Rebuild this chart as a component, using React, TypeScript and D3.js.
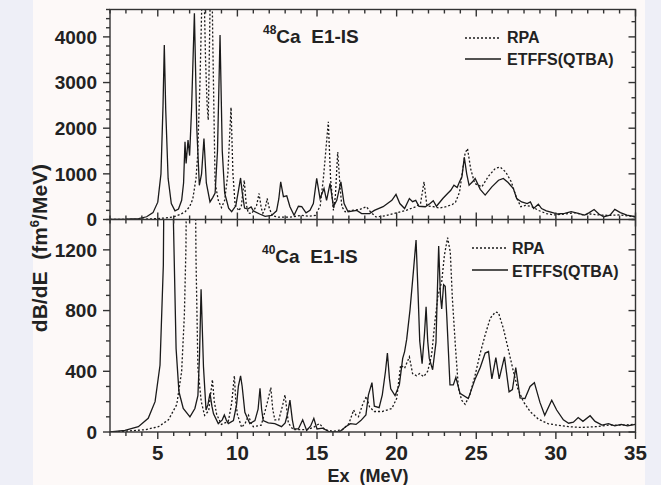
import React from "react";
import * as d3 from "d3";

type P = [number, number];

// 48Ca E1-IS, ETFFS(QTBA)
const ca48Qtba: P[] = [
[2,0],[3,5],[3.8,20],[4.3,60],[4.7,150],[5.0,380],[5.2,1000],[5.33,2500],[5.41,3820],[5.5,2400],[5.65,900],[5.85,350],[6.08,190],[6.3,230],[6.5,420],[6.62,800],[6.71,1700],[6.78,1230],[6.9,1740],[7.0,1400],[7.12,2400],[7.3,4520],[7.45,2000],[7.61,750],[7.75,1000],[7.9,1775],[8.05,800],[8.28,385],[8.45,480],[8.6,580],[8.75,1500],[8.91,4040],[9.05,1500],[9.2,580],[9.45,250],[9.64,170],[9.9,300],[10.05,600],[10.2,910],[10.3,600],[10.45,250],[10.65,230],[10.86,275],[11.0,190],[11.4,120],[11.74,70],[12.15,90],[12.46,190],[12.6,450],[12.72,825],[12.89,500],[13.1,520],[13.3,280],[13.56,95],[13.83,290],[14.04,280],[14.31,145],[14.56,200],[14.77,350],[14.98,900],[15.19,460],[15.44,680],[15.6,420],[15.82,790],[16.03,280],[16.24,420],[16.5,825],[16.7,350],[16.95,170],[17.5,200],[17.8,130],[18.3,130],[18.6,200],[19.15,280],[19.7,420],[19.96,550],[20.2,350],[20.5,240],[20.8,460],[21.0,390],[21.2,420],[21.4,290],[21.8,280],[22.1,350],[22.3,410],[22.5,290],[22.9,460],[23.2,570],[23.4,640],[23.6,750],[23.8,700],[23.95,825],[24.1,935],[24.25,1360],[24.4,1000],[24.55,750],[24.75,820],[24.93,900],[25.25,660],[25.56,535],[25.98,715],[26.4,860],[26.7,900],[27.0,810],[27.33,680],[27.54,460],[27.85,385],[28.2,350],[28.4,385],[28.6,240],[28.9,335],[29.1,240],[29.4,190],[29.8,150],[30.1,120],[30.55,135],[30.96,170],[31.4,135],[31.8,95],[32.1,150],[32.4,220],[32.7,120],[33.0,60],[33.4,95],[33.7,220],[34.05,150],[34.46,95],[35,60]
];

// 48Ca E1-IS, RPA
const ca48Rpa: P[] = [
[2,0],[4,5],[5,20],[5.5,35],[6.0,60],[6.4,110],[6.72,170],[7.0,280],[7.2,450],[7.4,900],[7.5,1380],[7.65,3000],[7.85,6000],[8.0,3500],[8.1,2500],[8.17,2180],[8.3,5000],[8.38,6000],[8.45,4000],[8.6,800],[8.8,420],[9.0,260],[9.2,420],[9.4,1000],[9.6,2455],[9.72,1000],[9.86,310],[10.1,190],[10.25,300],[10.43,860],[10.55,350],[10.68,140],[10.9,130],[11.2,300],[11.36,570],[11.5,250],[11.6,140],[11.75,250],[11.87,460],[12.0,250],[12.2,80],[12.6,50],[13.3,50],[14.0,90],[14.5,70],[14.9,90],[15.2,300],[15.4,900],[15.5,1300],[15.71,2140],[15.85,900],[16.03,200],[16.15,500],[16.3,1480],[16.45,700],[16.56,280],[16.77,170],[17.2,200],[17.7,220],[18.1,280],[18.4,150],[18.7,57],[19.3,80],[19.8,130],[20.6,200],[21.2,280],[21.5,350],[21.72,825],[21.9,300],[22.3,280],[22.7,250],[23.1,280],[23.5,330],[23.7,380],[23.95,600],[24.15,1100],[24.3,1450],[24.45,1555],[24.65,1110],[24.9,790],[25.35,715],[25.77,950],[26.2,1120],[26.5,1150],[26.85,1040],[27.2,825],[27.5,500],[27.8,280],[28.1,310],[28.5,280],[28.9,200],[29.4,130],[29.9,100],[30.55,120],[31.2,150],[31.7,100],[32.2,120],[32.7,100],[33.3,90],[34,100],[35,60]
];

// 40Ca E1-IS, ETFFS(QTBA)
const ca40Qtba: P[] = [
[2,0],[2.94,10],[3.78,35],[4.4,90],[4.83,200],[5.14,440],[5.35,1100],[5.45,2500],[5.65,5000],[5.88,2500],[5.98,1400],[6.15,550],[6.33,265],[6.6,155],[7.02,100],[7.33,155],[7.52,240],[7.62,500],[7.72,940],[7.87,430],[8.03,145],[8.15,180],[8.28,255],[8.4,170],[8.5,120],[8.8,55],[9.05,80],[9.18,112],[9.3,80],[9.43,55],[9.75,75],[9.95,180],[10.06,300],[10.2,370],[10.3,300],[10.47,130],[10.78,55],[11.1,75],[11.3,150],[11.42,288],[11.52,150],[11.62,75],[11.94,60],[12.35,55],[12.77,35],[13.0,60],[13.15,120],[13.3,210],[13.45,80],[13.56,20],[13.83,20],[14.1,80],[14.35,10],[14.6,40],[14.8,90],[15.0,20],[15.35,25],[15.8,0],[16.4,0],[16.8,35],[17.1,55],[17.45,50],[17.75,75],[18.07,112],[18.23,245],[18.45,325],[18.6,170],[18.9,160],[19.1,245],[19.3,400],[19.42,520],[19.55,350],[19.63,285],[19.9,240],[20.17,310],[20.38,485],[20.5,530],[20.63,610],[20.84,805],[21.05,1055],[21.22,1265],[21.35,900],[21.45,600],[21.6,450],[21.75,650],[21.85,825],[21.95,600],[22.05,485],[22.26,410],[22.47,590],[22.55,900],[22.64,1225],[22.75,900],[22.83,810],[22.95,970],[23.05,960],[23.15,760],[23.35,310],[23.56,310],[23.72,360],[23.98,255],[24.5,220],[24.93,350],[25.25,425],[25.56,520],[25.77,530],[25.98,350],[26.23,490],[26.44,350],[26.77,495],[27.06,265],[27.27,280],[27.48,425],[27.75,225],[28.06,220],[28.38,300],[28.65,325],[29.0,195],[29.3,110],[29.74,210],[30.05,145],[30.47,80],[30.8,58],[31.1,65],[31.4,95],[31.7,70],[32.15,107],[32.46,70],[32.9,45],[33.3,55],[33.7,40],[34.1,50],[34.5,40],[35,50]
];

// 40Ca E1-IS, RPA
const ca40Rpa: P[] = [
[2,0],[2.94,5],[4.2,15],[5.04,35],[5.67,80],[6.19,180],[6.5,400],[6.67,770],[6.77,1220],[6.9,3000],[7.1,5000],[7.3,2500],[7.4,1150],[7.52,420],[7.73,200],[7.94,110],[8.2,140],[8.32,250],[8.43,345],[8.55,200],[8.7,115],[9.0,50],[9.43,70],[9.64,190],[9.81,370],[9.9,200],[10.0,115],[10.27,30],[10.5,60],[10.7,110],[10.85,60],[11.0,35],[11.5,45],[11.87,190],[12.1,292],[12.22,150],[12.35,80],[12.6,80],[12.85,180],[12.99,245],[13.1,150],[13.2,60],[13.5,15],[14.35,15],[14.77,30],[15.15,55],[15.5,15],[16.0,5],[16.6,15],[17.0,55],[17.3,145],[17.45,110],[17.6,100],[17.86,180],[18.1,235],[18.3,165],[18.6,135],[19.1,135],[19.7,155],[20.0,220],[20.25,440],[20.5,420],[20.8,495],[21.0,385],[21.25,370],[21.45,385],[21.7,365],[21.95,400],[22.2,510],[22.4,725],[22.6,900],[22.83,990],[23.0,1165],[23.2,1280],[23.37,1185],[23.5,880],[23.7,550],[23.88,288],[24.08,210],[24.3,182],[24.6,245],[24.93,375],[25.25,520],[25.56,640],[25.88,750],[26.2,790],[26.4,785],[26.7,683],[27.0,550],[27.33,400],[27.6,288],[27.96,200],[28.38,135],[28.9,85],[29.5,55],[30.1,45],[30.8,35],[31.6,30],[32.5,35],[33.3,45],[34.1,45],[34.9,50],[35,50]
];

const xTickLabels = [5, 10, 15, 20, 25, 30, 35];
const topYTickLabels = [0, 1000, 2000, 3000, 4000];
const bottomYTickLabels = [0, 400, 800, 1200];
const legendLabels = ["RPA", "ETFFS(QTBA)"];

const W = 661, H = 485;
const L = 110, R = 635.5;
const TOP0 = 9.5, MID = 219.5, BOT = 432;
const FONT = "'Liberation Sans', Arial, sans-serif";
const INK = "#1a1a1a";

export default function App() {
  const x = d3.scaleLinear().domain([2, 35]).range([L, R]);
  const yT = d3.scaleLinear().domain([0, 4600]).range([MID, TOP0]);
  const yB = d3.scaleLinear().domain([0, 1400]).range([BOT, MID]);

  const lineT = d3.line<P>().x(d => x(d[0])).y(d => yT(d[1]));
  const lineB = d3.line<P>().x(d => x(d[0])).y(d => yB(d[1]));

  const xMinor = d3.range(2, 35.01, 1);
  const isMajorX = (v: number) => v % 5 === 0;

  const ticks: React.ReactNode[] = [];
  xMinor.forEach((v, i) => {
    const px = x(v);
    const len = isMajorX(v) ? 7 : 4;
    ticks.push(<line key={"xt" + i} x1={px} x2={px} y1={TOP0} y2={TOP0 + len} />);
    ticks.push(<line key={"xm1" + i} x1={px} x2={px} y1={MID} y2={MID - len} />);
    ticks.push(<line key={"xm2" + i} x1={px} x2={px} y1={MID} y2={MID + len} />);
    ticks.push(<line key={"xb" + i} x1={px} x2={px} y1={BOT} y2={BOT + len} />);
  });
  d3.range(0, 4601, 200).forEach((v, i) => {
    const len = v % 1000 === 0 ? 7 : 4;
    ticks.push(<line key={"tl" + i} x1={L} x2={L - len} y1={yT(v)} y2={yT(v)} />);
  });
  d3.range(0, 4601, 1000 / 3).forEach((v, i) => {
    const len = i % 3 === 0 ? 7 : 4;
    ticks.push(<line key={"tr" + i} x1={R} x2={R - len} y1={yT(v)} y2={yT(v)} />);
  });
  d3.range(0, 1401, 100).forEach((v, i) => {
    const len = v % 400 === 0 ? 7 : 4;
    ticks.push(<line key={"bl" + i} x1={L} x2={L - len} y1={yB(v)} y2={yB(v)} />);
    ticks.push(<line key={"br" + i} x1={R} x2={R - len} y1={yB(v)} y2={yB(v)} />);
  });

  return (
    <svg width={W} height={H} style={{ position: "absolute", left: 0, top: 0, display: "block" }}>
      <rect x={0} y={0} width={W} height={H} fill="#eeeff7" />
      <rect x={33} y={0} width={612} height={H} fill="#fdf9f8" />
      <defs>
        <clipPath id="clipT"><rect x={L} y={TOP0} width={R - L} height={MID - TOP0} /></clipPath>
        <clipPath id="clipB"><rect x={L} y={MID} width={R - L} height={BOT - MID} /></clipPath>
      </defs>

      <g clipPath="url(#clipT)" fill="none">
        <path d={lineT(ca48Rpa) || ""} stroke={INK} strokeWidth={1.3} strokeDasharray="2,2" />
        <path d={lineT(ca48Qtba) || ""} stroke={INK} strokeWidth={1.3} />
      </g>
      <g clipPath="url(#clipB)" fill="none">
        <path d={lineB(ca40Rpa) || ""} stroke={INK} strokeWidth={1.3} strokeDasharray="2,2" />
        <path d={lineB(ca40Qtba) || ""} stroke={INK} strokeWidth={1.3} />
      </g>

      <g stroke="#333" strokeWidth={1.4}>
        {ticks}
        <rect x={L} y={TOP0} width={R - L} height={BOT - TOP0} fill="none" />
        <line x1={L} x2={R} y1={MID} y2={MID} />
      </g>

      <g fontFamily={FONT} fontWeight="bold" fill="#222">
        {topYTickLabels.map(v => (
          <text key={"ty" + v} x={97} y={yT(v)} dy="0.36em" textAnchor="end" fontSize={19}>{v}</text>
        ))}
        {bottomYTickLabels.map(v => (
          <text key={"by" + v} x={97} y={yB(v)} dy="0.36em" textAnchor="end" fontSize={19}>{v}</text>
        ))}
        {xTickLabels.map(v => (
          <text key={"xl" + v} x={x(v)} y={460} textAnchor="middle" fontSize={20.5}>{v}</text>
        ))}
        <text x={368} y={481.5} textAnchor="middle" fontSize={18}>{"Ex\u00a0\u00a0(MeV)"}</text>
        <text transform="translate(47,248) rotate(-90)" textAnchor="middle" fontSize={21}>
          {"dB/dE\u00a0\u00a0(fm"}<tspan dy={-8} fontSize={13}>6</tspan><tspan dy={8}>/MeV)</tspan>
        </text>

        <text x={263} y={43} fontSize={19}>
          <tspan dy={-9} fontSize={12}>48</tspan><tspan dy={9}>{"Ca\u00a0\u00a0E1-IS"}</tspan>
        </text>
        <text x={262} y={263} fontSize={19}>
          <tspan dy={-9} fontSize={12}>40</tspan><tspan dy={9}>{"Ca\u00a0\u00a0E1-IS"}</tspan>
        </text>

        <line x1={465} x2={501} y1={38} y2={38} stroke={INK} strokeWidth={1.3} strokeDasharray="2,2" />
        <text x={507} y={43} fontSize={16}>{legendLabels[0]}</text>
        <line x1={465} x2={501} y1={59} y2={59} stroke={INK} strokeWidth={1.3} />
        <text x={507} y={65} fontSize={16}>{legendLabels[1]}</text>

        <line x1={472} x2={508} y1={248} y2={248} stroke={INK} strokeWidth={1.3} strokeDasharray="2,2" />
        <text x={512} y={254} fontSize={16}>{legendLabels[0]}</text>
        <line x1={472} x2={508} y1={270} y2={270} stroke={INK} strokeWidth={1.3} />
        <text x={512} y={276.5} fontSize={16}>{legendLabels[1]}</text>
      </g>
    </svg>
  );
}
